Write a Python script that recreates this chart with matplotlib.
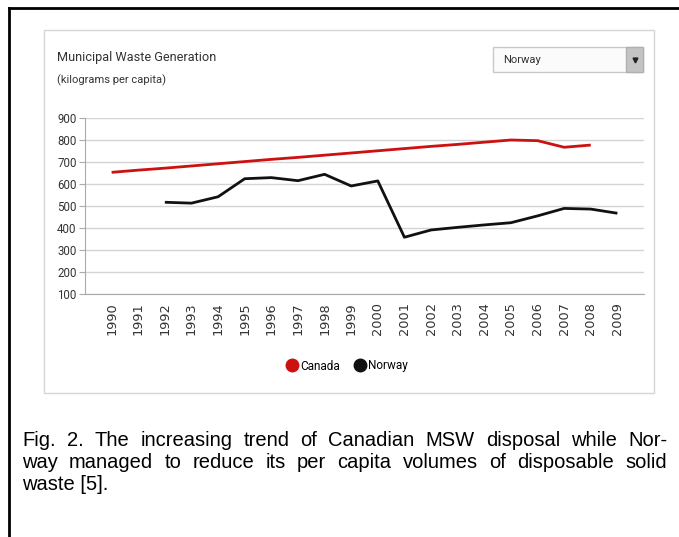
import matplotlib
matplotlib.use("Agg")
import matplotlib.pyplot as plt
from matplotlib.lines import Line2D
from matplotlib.patches import Rectangle

W, H = 679, 537

years = list(range(1990, 2010))
canada = [653, 663, 672, 682, 692, 702, 712, 721, 731, 741,
          751, 761, 771, 780, 790, 800, 797, 767, 777, None]
norway = [None, None, 517, 513, 542, 624, 629, 615, 644, 591,
          614, 358, 391, 403, 414, 424, 455, 489, 486, 467]
y_ticks = [100, 200, 300, 400, 500, 600, 700, 800, 900]

caption_lines = [
    "Fig. 2. The increasing trend of Canadian MSW disposal while Nor-",
    "way managed to reduce its per capita volumes of disposable solid",
    "waste [5].",
]

ui_font = ["Roboto", "DejaVu Sans"]
red = "#cc1111"
dark = "#111111"
grid = "#d4d4d4"
txt = "#333333"


def px(x, y):
    # pixel position (from top-left) to figure fraction
    return x / W, 1 - y / H


fig = plt.figure(figsize=(W / 100, H / 100), dpi=100)

# page border: left and top only
fig.add_artist(Line2D([9 / W, 9 / W], [0, 1 - 8 / H], color="black", lw=2))
fig.add_artist(Line2D([9 / W, 1], [1 - 8 / H, 1 - 8 / H], color="black", lw=2))

# chart panel
x0, y0 = px(44, 393)
fig.add_artist(Rectangle((x0, y0), (654 - 44) / W, (393 - 30) / H,
                         transform=fig.transFigure, fill=False,
                         edgecolor="#d6d6d6", lw=1))

fig.text(*px(57, 58), "Municipal Waste Generation", family=ui_font,
         fontsize=9.2, color=txt, va="center")
fig.text(*px(57, 80), "(kilograms per capita)", family=ui_font,
         fontsize=8, color=txt, va="center")

# country selector
bx, by = px(493, 72)
fig.add_artist(Rectangle((bx, by), (643 - 493) / W, 25 / H,
                         transform=fig.transFigure, facecolor="#fbfbfb",
                         edgecolor="#c8c8c8", lw=1))
ax_, ay_ = px(626, 72)
fig.add_artist(Rectangle((ax_, ay_), (643 - 626) / W, 25 / H,
                         transform=fig.transFigure, facecolor="#c4c4c4",
                         edgecolor="#b0b0b0", lw=1))
fig.add_artist(Line2D([634.5 / W], [1 - 60 / H], marker="v", color="#222222",
                      markersize=3.5, linestyle="none"))
fig.text(*px(503, 60), "Norway", family=ui_font, fontsize=8,
         color=txt, va="center")

# plot area
left, bottom = px(85, 294)
ax = fig.add_axes([left, bottom, (644 - 85) / W, (294 - 118) / H])
idx = list(range(len(years)))
ax.plot(idx, [v if v is not None else float("nan") for v in canada],
        color=red, lw=2, solid_capstyle="butt")
ax.plot(idx, [v if v is not None else float("nan") for v in norway],
        color=dark, lw=2, solid_capstyle="butt")

ax.set_xlim(-1, len(years))
ax.set_ylim(100, 900)
ax.set_yticks(y_ticks)
ax.set_yticklabels([str(t) for t in y_ticks], family=ui_font, fontsize=8.3,
                   color=txt)
ax.set_xticks(idx)
ax.set_xticklabels([str(y) for y in years], rotation=90, family="DejaVu Sans",
                   fontsize=9.3, color=txt, va="top")
ax.tick_params(axis="x", length=0, pad=6)
ax.tick_params(axis="y", length=4, width=0.8, color="#aaaaaa", pad=2)
ax.yaxis.grid(True, color=grid, lw=1)
ax.set_axisbelow(True)
for s in ["top", "right"]:
    ax.spines[s].set_visible(False)
ax.spines["left"].set_color("#aaaaaa")
ax.spines["bottom"].set_color("#aaaaaa")

handles = [Line2D([], [], marker="o", color=red, linestyle="none", markersize=9),
           Line2D([], [], marker="o", color=dark, linestyle="none", markersize=9)]
fig.legend(handles, ["Canada", "Norway"], loc="center", bbox_to_anchor=px(347, 366),
           ncol=2, frameon=False, prop={"family": ui_font, "size": 8.5},
           handletextpad=0.2, columnspacing=1.2, handlelength=1.0)

# justified caption
renderer = fig.canvas.get_renderer()
x_left, x_right = 22, 667
line_y = [440, 462, 484]
cap_font = dict(family="Liberation Sans", fontsize=14.5, color="black", va="center")
for i, line in enumerate(caption_lines):
    words = line.split(" ")
    if i == len(caption_lines) - 1:
        fig.text(*px(x_left, line_y[i]), line, **cap_font)
        continue
    texts = [fig.text(0, 0, w, **cap_font) for w in words]
    widths = [t.get_window_extent(renderer).width for t in texts]
    gap = (x_right - x_left - sum(widths)) / (len(words) - 1)
    x = x_left
    for t, w in zip(texts, widths):
        t.set_position(px(x, line_y[i]))
        x += w + gap

fig.savefig("out.png", dpi=100)
